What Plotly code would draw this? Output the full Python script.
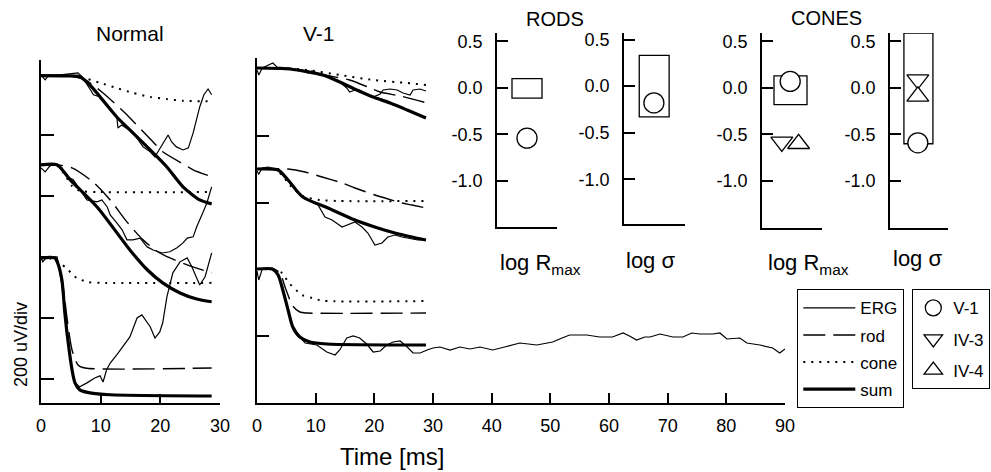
import plotly.graph_objects as go

# ---------------- DATA (time in ms, amplitude in uV; 200 uV per division) ----------------
# Normal subject: three flash intensities (rows top -> bottom)
normal_top_erg = [(0.1,994),(0.7,981),(1.2,994),(3.2,997),(6.2,1004),(6.9,991),(8.8,932),(9.9,925),(11.6,882),
                  (12.7,859),(12.9,823),(13.5,833),(15.5,807),(17.1,761),(18.3,745),(19.1,728),(19.6,745),(20.5,774),
                  (21.3,800),(21.9,777),(22.7,761),(23.8,751),(24.7,758),(25.5,807),(26.6,892),(27.3,932),(28.0,951),(28.6,932)]
normal_top_rod = [(0,995),(4.4,994),(7.4,981),(10.2,941),(14.1,872),(15.2,850),(18.8,777),(20.4,745),(24.1,702),(25.5,686),(28.6,663)]
normal_top_cone = [(0,995),(4.4,994),(6.5,991),(9.9,971),(12.7,954),(15.4,938),(18.3,925),(21.1,918),(23.8,912),(28.6,911)]
normal_top_sum = [(0,995),(4.4,994),(6.5,991),(8.2,964),(9.9,925),(12.7,859),(15.4,807),(18.3,751),(21.1,695),(23.8,630),(26.6,587),(28.6,574)]

normal_mid_erg = [(0,692),(0.7,679),(1.5,699),(2.7,705),(3.5,692),(4.4,663),(5.4,653),(6.5,620),(7.7,587),(9.4,581),
                  (10.2,587),(11.1,564),(11.6,538),(12.7,512),(13.6,489),(14.4,456),(15.4,456),(16.6,462),(17.8,433),
                  (18.8,423),(20.3,413),(21.6,417),(22.8,430),(23.8,446),(24.5,462),(25.5,466),(26.1,499),(27.1,544),
                  (27.8,577),(28.6,630)]
normal_mid_rod = [(0,702),(2.7,702),(5.2,692),(8.7,646),(11.6,587),(14.4,515),(17.1,456),(19.9,413),(24.5,374),(28.6,348)]
normal_mid_cone = [(0,702),(2.7,699),(4.0,669),(5.2,633),(6.5,617),(9.9,613),(28.6,613)]
normal_mid_sum = [(0,702),(2.7,702),(4.9,653),(9.4,564),(14.9,423),(17.8,358),(20.4,315),(23.3,282),(26.1,262),(28.6,253)]

normal_bot_erg = [(0,397),(0.3,384),(1.0,400),(2.7,400),(3.5,308),(4.4,161),(5.2,30),(5.7,-13),(6.5,-26),(7.7,-13),
                  (9.0,3),(9.9,10),(10.4,-10),(11.0,30),(11.6,52),(12.7,79),(13.7,105),(14.9,138),(16.1,200),(16.9,210),
                  (18.3,171),(19.1,134),(19.9,154),(20.4,184),(21.1,269),(22.1,348),(23.3,384),(24.5,397),(25.3,367),
                  (26.6,308),(27.5,335),(28.6,413)]
normal_bot_rod = [(0,397),(2.3,397),(2.8,382),(3.5,330),(4.4,194),(5.2,95),(6.2,46),(7.4,36),(28.6,36)]
normal_bot_cone = [(0,397),(1.8,394),(3.2,380),(4.5,358),(6.0,331),(7.9,318),(9.9,315),(28.6,315)]
normal_bot_sum = [(0,397),(2.3,397),(2.8,380),(3.5,325),(4.0,216),(4.5,128),(5.2,30),(5.7,-13),(6.5,-36),(8.2,-46),(11.6,-52),(28.6,-56)]

# Patient V-1
v1_top_erg = [(0,798),(0.3,783),(0.9,804),(2.7,819),(3.4,807),(5.6,804),(8.2,795),(8.7,789),(9.4,795),(10.7,786),
              (12.4,777),(14.1,762),(15.3,744),(15.8,732),(16.7,738),(17.5,738),(18.7,723),(19.8,717),(21.0,726),
              (21.5,738),(22.7,741),(23.9,738),(24.9,729),(26.1,723),(26.6,738),(27.8,741),(28.8,735)]
v1_top_rod = [(0,804),(7.3,798),(12.4,780),(15.8,768),(19.3,744),(21.0,732),(24.4,720),(28.8,700)]
v1_top_cone = [(0,804),(5.6,802),(8.5,798),(14.1,783),(19.8,768),(25.6,759),(28.8,753)]
v1_top_sum = [(0,804),(5.6,801),(11.2,783),(14.1,762),(17.0,738),(19.8,717),(22.7,699),(25.6,678),(28.8,654)]

v1_mid_erg = [(0,495),(0.3,486),(0.9,504),(1.9,507),(3.1,501),(3.9,492),(5.3,465),(6.8,432),(7.8,417),(9.4,402),
              (10.4,393),(11.6,357),(12.8,348),(14.5,327),(15.5,333),(16.7,342),(17.9,327),(18.9,309),(20.1,273),
              (21.3,279),(22.3,297),(23.5,303),(24.7,297),(25.7,294),(27.4,288),(28.8,288)]
v1_mid_rod = [(0,501),(5.3,501),(8.2,492),(11.1,477),(14.5,459),(16.7,444),(20.1,423),(21.8,414),(24.7,399),(26.4,393),(28.8,384)]
v1_mid_cone = [(0,501),(3.1,499),(4.4,480),(5.6,453),(7.8,420),(10.7,408),(14.1,405),(28.8,405)]
v1_mid_sum = [(0,501),(3.6,498),(5.3,468),(7.8,417),(12.1,384),(16.7,348),(20.6,324),(23.5,309),(26.4,297),(28.8,288)]

v1_bot_erg = [(0,195),(0.3,168),(0.9,201),(2.6,204),(3.1,198),(4.3,153),(5.3,78),(6.1,30),(7.3,-3),(8.2,-21),
              (10.2,-27),(11.9,-48),(13.3,-57),(14.1,-42),(15.3,-6),(16.4,0),(17.5,-6),(18.7,-24),(19.8,-48),
              (21.0,-45),(22.1,-27),(23.2,-18),(24.4,-15),(25.6,-33),(26.6,-51),(27.8,-51),(29.0,-42),(30.0,-36),
              (31.2,-33),(32.9,-42),(34.6,-33),(36.3,-39),(38.0,-33),(40.2,-42),(42.2,-33),(44.8,-21),(47.7,-27),
              (50.4,-18),(52.0,-6),(53.3,3),(56.2,3),(58.4,-3),(60.6,-3),(62.4,9),(63.5,0),(64.7,-12),(66.1,-3),
              (67.0,-3),(68.7,6),(70.9,-3),(72.6,-3),(74.1,9),(75.5,6),(77.7,6),(78.9,9),(80.1,-9),(82.3,-6),
              (83.5,-21),(85.7,-27),(87.9,-36),(89.1,-51),(90.0,-39)]
v1_bot_rod = [(0,201),(2.8,201),(3.9,189),(4.9,141),(6.1,90),(7.3,72),(8.5,69),(28.8,69)]
v1_bot_cone = [(0,201),(2.6,199),(4.3,189),(5.3,162),(7.7,123),(9.4,114),(11.2,106),(28.8,105)]
v1_bot_sum = [(0,201),(2.6,201),(3.6,183),(4.4,138),(5.3,78),(6.1,27),(7.3,-3),(9.0,-18),(11.9,-24),(28.8,-27)]

# Model parameters (log units relative to normal mean)
rods_rmax_normal_range = (-0.11, 0.10)
rods_sigma_normal_range = (-0.33, 0.33)
cones_rmax_normal_range = (-0.18, 0.13)
cones_sigma_normal_range = (-0.60, 0.59)
rods_rmax_v1 = -0.54
rods_sigma_v1 = -0.18
cones_rmax = {"V-1": 0.07, "IV-3": -0.58, "IV-4": -0.60}
cones_sigma = {"V-1": -0.59, "IV-3": 0.09, "IV-4": -0.09}
param_ticks = [-1.0, -0.5, 0.0, 0.5]
param_ticktext = ["-1.0", "-0.5", "0.0", "0.5"]

# ---------------- FIGURE ----------------
W, H = 991, 472
FONT = "Arial, Liberation Sans, Helvetica, sans-serif"

def dx(a, b):
    return [a / W, b / W]

def dy(top, bottom):
    return [1 - bottom / H, 1 - top / H]

fig = go.Figure()

STYLES = {
    "ERG": dict(color="black", width=1.2),
    "rod": dict(color="black", width=1.4, dash="22px,8px"),
    "cone": dict(color="black", width=2.0, dash="2px,6px"),
    "sum": dict(color="black", width=3.2),
}
RANK = {"ERG": 1, "rod": 2, "cone": 3, "sum": 4}
shown = set()

def add_curve(pts, xa, ya, kind):
    t = [p[0] for p in pts]
    v = [p[1] for p in pts]
    line = dict(STYLES[kind])
    if kind != "ERG":
        line.update(shape="spline", smoothing=0.7)
    fig.add_trace(go.Scatter(
        x=t, y=v, xaxis=xa, yaxis=ya, mode="lines", line=line, name=kind,
        legendgroup=kind, legendrank=RANK[kind], showlegend=kind not in shown,
        legend="legend", hoverinfo="skip"))
    shown.add(kind)

for xa, ya, rows in [
    ("x", "y", [(normal_top_erg, normal_top_rod, normal_top_cone, normal_top_sum),
                (normal_mid_erg, normal_mid_rod, normal_mid_cone, normal_mid_sum),
                (normal_bot_erg, normal_bot_rod, normal_bot_cone, normal_bot_sum)]),
    ("x2", "y2", [(v1_top_erg, v1_top_rod, v1_top_cone, v1_top_sum),
                  (v1_mid_erg, v1_mid_rod, v1_mid_cone, v1_mid_sum),
                  (v1_bot_erg, v1_bot_rod, v1_bot_cone, v1_bot_sum)]),
]:
    for erg, rod, cone, sm in rows:
        add_curve(cone, xa, ya, "cone")
        add_curve(rod, xa, ya, "rod")
        add_curve(erg, xa, ya, "ERG")
        add_curve(sm, xa, ya, "sum")

# parameter panels: normal ranges as boxes, patients as symbols
MARK = {
    "V-1": dict(symbol="circle", size=20),
    "IV-3": dict(symbol="triangle-down", size=19),
    "IV-4": dict(symbol="triangle-up", size=19),
}
mshown = set()

def add_marker(name, xpos, yval, xa, ya):
    m = dict(MARK[name])
    m.update(color="white", line=dict(color="black", width=1.3))
    fig.add_trace(go.Scatter(
        x=[xpos], y=[yval], xaxis=xa, yaxis=ya, mode="markers", marker=m, name=name,
        legendgroup=name, showlegend=name not in mshown, legend="legend2", hoverinfo="skip"))
    mshown.add(name)

shapes = []
def add_box(rng, xa, ya, x0, x1):
    shapes.append(dict(type="rect", xref=xa, yref=ya, x0=x0, x1=x1, y0=rng[0], y1=rng[1],
                       line=dict(color="black", width=1.3), fillcolor="rgba(0,0,0,0)", layer="below"))

add_box(rods_rmax_normal_range, "x3", "y3", 0.25, 0.75)
add_marker("V-1", 0.5, rods_rmax_v1, "x3", "y3")
add_box(rods_sigma_normal_range, "x4", "y4", 0.25, 0.74)
add_marker("V-1", 0.49, rods_sigma_v1, "x4", "y4")
add_box(cones_rmax_normal_range, "x5", "y5", 0.2, 0.75)
add_marker("V-1", 0.47, cones_rmax["V-1"], "x5", "y5")
add_marker("IV-3", 0.33, cones_rmax["IV-3"], "x5", "y5")
add_marker("IV-4", 0.61, cones_rmax["IV-4"], "x5", "y5")
add_box(cones_sigma_normal_range, "x6", "y6", 0.24, 0.74)
add_marker("V-1", 0.48, cones_sigma["V-1"], "x6", "y6")
add_marker("IV-3", 0.48, cones_sigma["IV-3"], "x6", "y6")
add_marker("IV-4", 0.48, cones_sigma["IV-4"], "x6", "y6")

axbase = dict(showline=True, linecolor="black", linewidth=1.5, showgrid=False, zeroline=False,
              ticks="inside", tickcolor="black", tickwidth=1.5, fixedrange=True,
              tickfont=dict(size=18, family=FONT, color="black"))

layout = dict(
    width=W, height=H, margin=dict(l=0, r=0, t=0, b=0, autoexpand=False),
    paper_bgcolor="white", plot_bgcolor="white",
    font=dict(family=FONT, color="black", size=18),
    shapes=shapes,
    xaxis=dict(axbase, domain=dx(41, 220), range=[0, 30], tickvals=[0, 10, 20, 30], ticklen=9,
               anchor="y", ticklabelstandoff=6),
    yaxis=dict(axbase, domain=dy(60, 403), range=[-79, 1046], tickvals=[0, 200, 400, 600, 800],
               ticklen=13, showticklabels=False, anchor="x"),
    xaxis2=dict(axbase, domain=dx(257, 785), range=[0, 90], tickvals=list(range(0, 91, 10)), ticklen=10,
                anchor="y2", ticklabelstandoff=6),
    yaxis2=dict(axbase, domain=dy(58, 403), range=[-201, 834], tickvals=[0, 200, 400, 600],
                ticklen=12, showticklabels=False, anchor="x2"),
    legend=dict(x=797 / W, y=1 - 289 / H, xanchor="left", yanchor="top", bordercolor="black",
                borderwidth=1.3, bgcolor="white", font=dict(size=17, family=FONT), tracegroupgap=2,
                itemwidth=52),
    legend2=dict(x=912 / W, y=1 - 289 / H, xanchor="left", yanchor="top", bordercolor="black",
                 borderwidth=1.3, bgcolor="white", font=dict(size=17, family=FONT), tracegroupgap=6,
                 itemwidth=30),
)

small = [("3", 497, 557, 33, 227, [-1.495, 0.59]),
         ("4", 624, 685, 33, 224, [-1.48, 0.57]),
         ("5", 762, 822, 33, 228, [-1.505, 0.59]),
         ("6", 890, 948, 33, 228, [-1.505, 0.59])]
for k, x0, x1, yt, yb, yr in small:
    layout["xaxis" + k] = dict(axbase, domain=dx(x0, x1), range=[0, 1], ticks="", showticklabels=False,
                               anchor="y" + k)
    layout["yaxis" + k] = dict(axbase, domain=dy(yt, yb), range=yr, tickvals=param_ticks,
                               ticktext=param_ticktext, ticklen=11, anchor="x" + k, ticklabelstandoff=9)

fig.update_layout(**layout)

def ann(text, x, y, size, angle=0):
    fig.add_annotation(text=text, x=x / W, y=1 - y / H, xref="paper", yref="paper", showarrow=False,
                       xanchor="center", yanchor="middle", textangle=angle,
                       font=dict(size=size, family=FONT, color="black"))

ann("Normal", 130, 33, 21)
ann("V-1", 319, 33, 21)
ann("RODS", 555, 19, 20)
ann("CONES", 826, 18, 20)
ann("Time [ms]", 392, 456, 24)
ann("200 uV/div", 21, 345, 18, angle=-90)
ann("log R<sub>max</sub>", 540, 264, 22)
ann("log \u03c3", 650, 260, 22)
ann("log R<sub>max</sub>", 808, 264, 22)
ann("log \u03c3", 917, 258, 22)

fig.write_html("out.html", config={"displayModeBar": False},
               post_script="document.body.style.margin='0px';")
